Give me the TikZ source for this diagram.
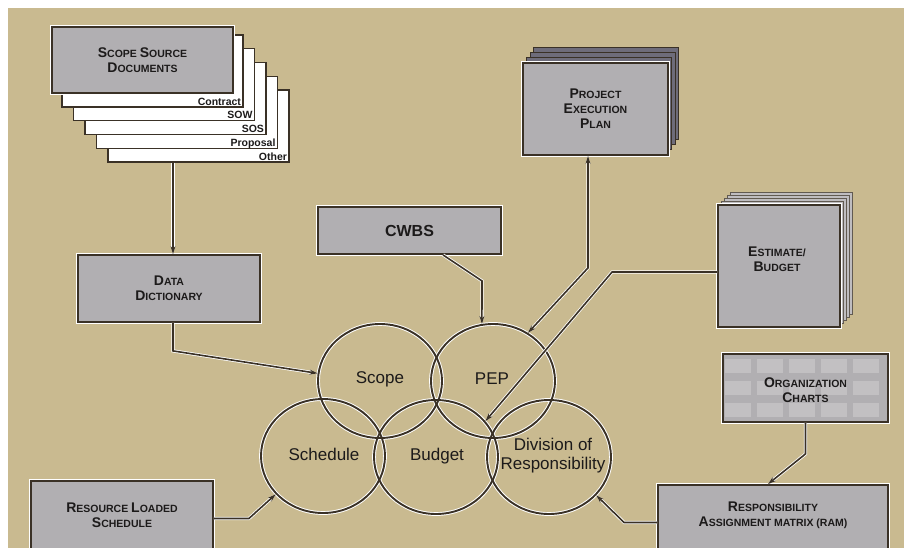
\documentclass[tikz,border=0pt]{standalone}
\usepackage{fontspec}
\setmainfont{Liberation Sans}
\usetikzlibrary{shapes.geometric,arrows.meta,calc}
\definecolor{tan}{HTML}{C9BA90}
\definecolor{boxg}{HTML}{B1AFB2}
\definecolor{ink}{HTML}{3A3126}
\definecolor{txt}{HTML}{1C1A1A}
\definecolor{stackd}{HTML}{6E6C7A}
\definecolor{padg}{HTML}{BFBDC0}
\newcommand\SCx[2]{{\fontsize{14}{15}\selectfont #1}#2}
\begin{document}
\begin{tikzpicture}[x=1pt,y=-1pt,
  gbox/.style={draw=ink, line width=1.8pt, fill=boxg, inner sep=0pt, align=center,
    text=txt, font={\fontsize{10.5}{15}\selectfont\bfseries},
    preaction={draw=white, line width=3.6pt}},
  boxtxt/.style={inner sep=0pt, align=center, text=txt,
    font={\fontsize{10.5}{15}\selectfont\bfseries}},
  sheetbox/.style={draw=ink, line width=1.3pt, fill=white, inner sep=0pt,
    minimum width=181pt, minimum height=72pt},
  sheetlbl/.style={anchor=base east, inner sep=0pt, text=txt,
    font={\fontsize{10.5}{12}\selectfont\bfseries}},
  backsheet/.style={draw=ink, line width=1pt, fill=stackd, inner sep=0pt},
  padsheet/.style={draw=ink!80, line width=0.8pt, fill=padg, inner sep=0pt},
  ringhalo/.style={ellipse, draw=white, line width=3.8pt, minimum width=124pt,
    minimum height=114pt, inner sep=0pt},
  ring/.style={ellipse, draw=ink, line width=1.9pt, minimum width=124pt,
    minimum height=114pt, inner sep=0pt},
  ringlbl/.style={align=center, text=txt, inner sep=0pt,
    font={\fontsize{17}{19}\selectfont}},
  arr/.style={draw=ink, line width=1.6pt, -{Stealth[length=8pt,width=5pt]},
    preaction={draw=white, line width=3.2pt}},
  darr/.style={draw=ink, line width=1.6pt, {Stealth[length=8pt,width=5pt]}-{Stealth[length=8pt,width=5pt]},
    preaction={draw=white, line width=3.2pt}}
]
\clip (0,0) rectangle (904,548);
\fill[white] (0,0) rectangle (904,548);
\fill[tan] (8,8) rectangle (904,548);

% Scope source documents: stacked sheets
\node[sheetbox] (sh5) at (198.5,126) {};
\node[sheetbox] (sh4) at (187,112.25) {};
\node[sheetbox] (sh3) at (175.5,98.5) {};
\node[sheetbox] (sh2) at (164,84.75) {};
\node[sheetbox] (sh1) at (152.5,71) {};
\node[sheetlbl] (l1) at ([xshift=-2.5pt,yshift=2.5pt]sh1.south east) {Contract};
\node[sheetlbl] (l2) at ([xshift=-2.5pt,yshift=2.5pt]sh2.south east) {SOW};
\node[sheetlbl] (l3) at ([xshift=-2.5pt,yshift=2.5pt]sh3.south east) {SOS};
\node[sheetlbl] (l4) at ([xshift=-2.5pt,yshift=2.5pt]sh4.south east) {Proposal};
\node[sheetlbl] (l5) at ([xshift=-2.5pt,yshift=2.5pt]sh5.south east) {Other};
\node[gbox, minimum width=181pt, minimum height=66pt] (ssd) at (142.5,60)
  {\SCx{S}{COPE} \SCx{S}{OURCE}\\\SCx{D}{OCUMENTS}};

% Data dictionary
\node[gbox, minimum width=182pt, minimum height=67pt] (dd) at (169,288.5)
  {\SCx{D}{ATA}\\\SCx{D}{ICTIONARY}};

% CWBS
\node[gbox, minimum width=183pt, minimum height=47pt, font={\fontsize{16}{18}\selectfont\bfseries}] (cwbs) at (409.5,230.5) {CWBS};

% Project execution plan with stack
\node[backsheet, minimum width=145pt, minimum height=92pt] (pb3) at (606,94) {};
\node[backsheet, minimum width=145pt, minimum height=92pt] (pb2) at (602.5,99) {};
\node[backsheet, minimum width=145pt, minimum height=92pt] (pb1) at (599,104) {};
\node[gbox, minimum width=145pt, minimum height=92pt] (pepl) at (595.5,109)
  {\SCx{P}{ROJECT}\\\SCx{E}{XECUTION}\\\SCx{P}{LAN}};

% Estimate / budget pad
\node[padsheet, minimum width=122pt, minimum height=122pt] (eb4) at (791.8,253.2) {};
\node[padsheet, minimum width=122pt, minimum height=122pt] (eb3) at (788.6,256.4) {};
\node[padsheet, minimum width=122pt, minimum height=122pt] (eb2) at (785.4,259.6) {};
\node[padsheet, minimum width=122pt, minimum height=122pt] (eb1) at (782.2,262.8) {};
\node[gbox, minimum width=122pt, minimum height=122pt] (est) at (779,266) {};
\node[boxtxt] (estt) at (777,259.5) {\SCx{E}{STIMATE/}\\\SCx{B}{UDGET}};

% Organization charts
\node[gbox, minimum width=165pt, minimum height=68pt] (org) at (805.5,388) {};
\begin{scope}
  \clip (725,356) rectangle (886,420);
  \foreach \cx in {738,770,802,834,866} {
    \foreach \cy in {366,388,410} {
      \fill[white, opacity=0.22] (\cx-13,\cy-7) rectangle (\cx+13,\cy+7);
    }
  }
\end{scope}
\node[boxtxt] (orgt) at (805.5,390) {\SCx{O}{RGANIZATION}\\\SCx{C}{HARTS}};

% RAM
\node[gbox, minimum width=230pt, minimum height=75pt] (ram) at (773,522.5) {};
\node[boxtxt] (ramt) at (773,515.5) {\SCx{R}{ESPONSIBILITY}\\\SCx{A}{SSIGNMENT MATRIX (RAM)}};

% Resource loaded schedule
\node[gbox, minimum width=182pt, minimum height=75pt] (rls) at (122,518.5) {};
\node[boxtxt] (rlst) at (122,515) {\SCx{R}{ESOURCE} \SCx{L}{OADED}\\\SCx{S}{CHEDULE}};

% circles: halos first
\foreach \p in {(380,381),(493,381),(323,456),(436,457),(549,457)} {
  \node[ringhalo] at \p {};
}
\node[ring] (scope) at (380,381) {};
\node[ring] (pep) at (493,381) {};
\node[ring] (sched) at (323,456) {};
\node[ring] (bud) at (436,457) {};
\node[ring] (div) at (549,457) {};
\node[ringlbl] (scopet) at (380,379) {Scope};
\node[ringlbl] (pept) at (492,379) {PEP};
\node[ringlbl] (schedt) at (324,454) {Schedule};
\node[ringlbl] (budt) at (437,456) {Budget};
\node[ringlbl] (divt) at (553,456) {Division of\\Responsibility};

% connectors
\coordinate (ddin) at ([xshift=4pt]dd.north);
\coordinate (ddout) at ([xshift=4pt]dd.south);
\draw[arr] (sh5.south -| ddin) -- (ddin);
\draw[arr] (ddout) -- ++(0,28) -- (scope.173);
\coordinate (cwout) at ([xshift=33.5pt]cwbs.south);
\draw[arr] (cwout) -- ++(39,26) -- (pep.101);
\coordinate (peplin) at ([xshift=-7.5pt]pepl.south);
\draw[darr] (peplin) -- ++(0,112) -- (pep.54);
\coordinate (estout) at ([yshift=-6pt]est.west);
\draw[arr] (estout) -- ++(-105,0) -- (bud.36);
\coordinate (ramin) at ([xshift=-5pt]ram.north);
\draw[arr] (org.south) -- ++(0,31) -- (ramin);
\draw[arr] (ram.west) -- ++(-33,0) -- (div.-39);
\draw[arr] (rls.east) -- ++(35,0) -- (sched.-141);
\end{tikzpicture}
\end{document}
